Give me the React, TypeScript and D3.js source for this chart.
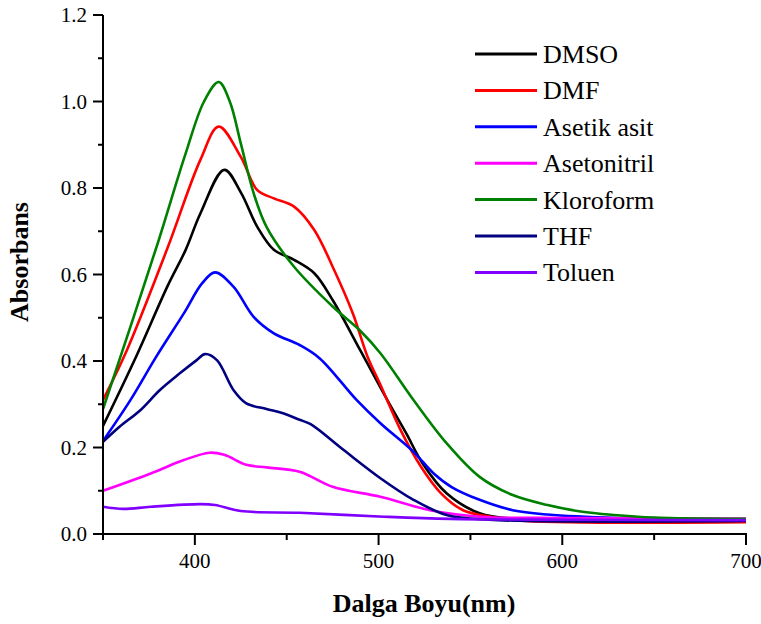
import React from "react";
import * as d3 from "d3";

const seriesNames = ["DMSO", "DMF", "Asetik asit", "Asetonitril", "Kloroform", "THF", "Toluen"];
const seriesColors = ["#000000", "#ff0000", "#0000ff", "#ff00ff", "#008000", "#000080", "#8000ff"];

const dmsoW = [350, 368, 385, 395, 403, 416, 425, 434, 443, 454, 465, 475, 490, 506, 515, 524, 537, 555, 575, 700];
const dmsoA = [0.25, 0.41, 0.572, 0.657, 0.741, 0.842, 0.79, 0.71, 0.657, 0.634, 0.603, 0.541, 0.425, 0.3, 0.233, 0.163, 0.094, 0.048, 0.035, 0.03];

const dmfW = [350, 363, 385, 403, 413, 425, 434, 443, 454, 465, 475, 486, 494, 501, 512, 523, 534, 546, 561, 580, 700];
const dmfA = [0.31, 0.425, 0.66, 0.865, 0.942, 0.872, 0.795, 0.776, 0.757, 0.703, 0.618, 0.51, 0.41, 0.345, 0.24, 0.156, 0.094, 0.055, 0.04, 0.03, 0.027];

const asetikW = [350, 365, 379, 394, 404, 411, 421, 432, 443, 457, 468, 488, 501, 519, 530, 540, 555, 573, 592, 630, 700];
const asetikA = [0.215, 0.31, 0.41, 0.51, 0.58, 0.605, 0.572, 0.502, 0.464, 0.437, 0.406, 0.31, 0.256, 0.19, 0.14, 0.108, 0.079, 0.055, 0.045, 0.037, 0.033];

const asetonitrilW = [350, 376, 394, 408, 416, 428, 439, 457, 475, 501, 528, 555, 600, 700];
const asetonitrilA = [0.1, 0.14, 0.171, 0.188, 0.183, 0.16, 0.154, 0.144, 0.109, 0.086, 0.055, 0.04, 0.037, 0.036];

const kloroformW = [350, 365, 380, 395, 405, 413, 419, 425, 432, 439, 454, 475, 490, 501, 519, 537, 555, 573, 592, 610, 628, 650, 700];
const kloroformA = [0.289, 0.48, 0.675, 0.88, 1.0, 1.045, 1.0, 0.903, 0.788, 0.71, 0.618, 0.526, 0.47, 0.418, 0.31, 0.21, 0.132, 0.09, 0.067, 0.052, 0.044, 0.038, 0.035];

const thfW = [350, 359, 370, 381, 392, 401, 405.5, 412, 421, 428, 439, 448, 457, 463, 481, 501, 519, 537, 560, 700];
const thfA = [0.213, 0.248, 0.285, 0.333, 0.372, 0.402, 0.416, 0.402, 0.333, 0.302, 0.289, 0.279, 0.264, 0.254, 0.194, 0.129, 0.079, 0.044, 0.033, 0.03];

const toluenW = [350, 361, 376, 403, 411, 425, 457, 503, 539, 600, 700];
const toluenA = [0.063, 0.058, 0.063, 0.069, 0.067, 0.053, 0.049, 0.04, 0.035, 0.033, 0.032];

const allW = [dmsoW, dmfW, asetikW, asetonitrilW, kloroformW, thfW, toluenW];
const allA = [dmsoA, dmfA, asetikA, asetonitrilA, kloroformA, thfA, toluenA];

const xTicks = [400, 500, 600, 700];
const xMinor = [350, 450, 550, 650];
const yTicks = [0, 0.2, 0.4, 0.6, 0.8, 1.0, 1.2];
const yMinor = [0.1, 0.3, 0.5, 0.7, 0.9, 1.1];

const W = 761;
const H = 624;
const FONT = "'Liberation Serif', 'Times New Roman', serif";

export default function App() {
  const x = d3.scaleLinear().domain([350, 700]).range([103, 746]);
  const y = d3.scaleLinear().domain([0, 1.2]).range([534, 15]);
  const line = d3
    .line<[number, number]>()
    .x((d) => x(d[0]))
    .y((d) => y(d[1]))
    .curve(d3.curveCatmullRom.alpha(0.5));

  const legendX0 = 475;
  const legendX1 = 537;
  const legendY0 = 54;
  const legendStep = 36.4;

  return (
    <svg width={W} height={H} style={{ position: "absolute", left: 0, top: 0, background: "#fff" }}>
      <rect x={0} y={0} width={W} height={H} fill="#fff" />
      {allW.map((ws, i) => (
        <path
          key={seriesNames[i]}
          d={line(ws.map((w, j) => [w, allA[i][j]] as [number, number])) || ""}
          fill="none"
          stroke={seriesColors[i]}
          strokeWidth={2.6}
          strokeLinejoin="round"
        />
      ))}
      {/* axes */}
      <line x1={x(350)} x2={x(700) + 1} y1={y(0)} y2={y(0)} stroke="#000" strokeWidth={2} />
      <line x1={x(350)} x2={x(350)} y1={y(0) + 1} y2={y(1.2)} stroke="#000" strokeWidth={2} />
      {xTicks.map((t) => (
        <g key={"xt" + t}>
          <line x1={x(t)} x2={x(t)} y1={y(0)} y2={y(0) + 11} stroke="#000" strokeWidth={2} />
          <text x={x(t)} y={568} textAnchor="middle" fontFamily={FONT} fontSize={21} fill="#000">
            {t}
          </text>
        </g>
      ))}
      {xMinor.map((t) => (
        <line key={"xm" + t} x1={x(t)} x2={x(t)} y1={y(0)} y2={y(0) + 6} stroke="#000" strokeWidth={2} />
      ))}
      {yTicks.map((t) => (
        <g key={"yt" + t}>
          <line x1={x(350) - 10} x2={x(350)} y1={y(t)} y2={y(t)} stroke="#000" strokeWidth={2} />
          <text
            x={87}
            y={y(t)}
            dy="0.35em"
            textAnchor="end"
            fontFamily={FONT}
            fontSize={21}
            fill="#000"
          >
            {t.toFixed(1)}
          </text>
        </g>
      ))}
      {yMinor.map((t) => (
        <line key={"ym" + t} x1={x(350) - 5} x2={x(350)} y1={y(t)} y2={y(t)} stroke="#000" strokeWidth={2} />
      ))}
      {/* axis titles */}
      <text
        x={424}
        y={612}
        textAnchor="middle"
        fontFamily={FONT}
        fontWeight="bold"
        fontSize={26}
        fill="#000"
      >
        Dalga Boyu(nm)
      </text>
      <text
        transform={`translate(28, 262) rotate(-90)`}
        textAnchor="middle"
        fontFamily={FONT}
        fontWeight="bold"
        fontSize={26}
        fill="#000"
      >
        Absorbans
      </text>
      {/* legend */}
      {seriesNames.map((n, i) => (
        <g key={"lg" + n}>
          <line
            x1={legendX0}
            x2={legendX1}
            y1={legendY0 + i * legendStep}
            y2={legendY0 + i * legendStep}
            stroke={seriesColors[i]}
            strokeWidth={3}
          />
          <text
            x={543}
            y={legendY0 + i * legendStep + 9}
            fontFamily={FONT}
            fontSize={26}
            fill="#000"
          >
            {n}
          </text>
        </g>
      ))}
    </svg>
  );
}
